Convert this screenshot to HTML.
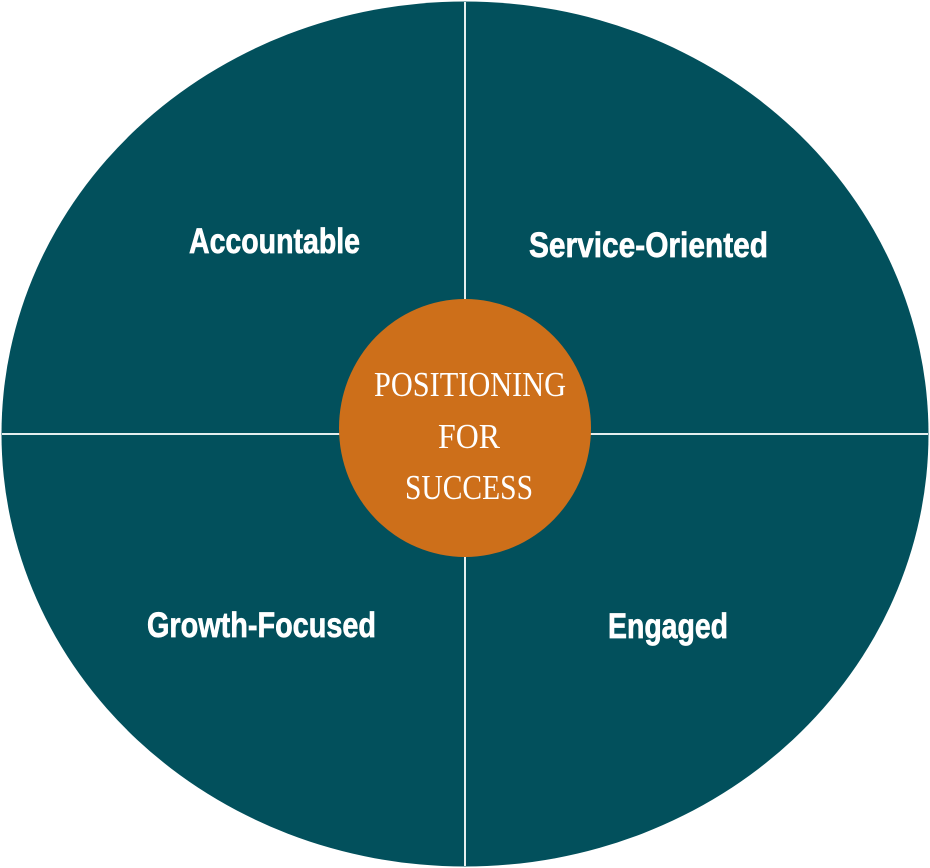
<!DOCTYPE html>
<html><head><meta charset="utf-8"><style>
html,body{margin:0;padding:0;background:#fff;width:930px;height:868px;overflow:hidden}
svg{display:block}
.l{font-family:"Liberation Sans",sans-serif;font-weight:bold;font-size:35px;fill:#fff;stroke:#fff;stroke-width:.7px}
.c{font-family:"Liberation Serif",serif;font-size:35px;fill:#fff}
</style></head><body>
<svg width="930" height="868" viewBox="0 0 930 868" xmlns="http://www.w3.org/2000/svg">
<ellipse cx="465" cy="434" rx="463.5" ry="432.5" fill="#02505c"/>
<rect x="464" y="2" width="2" height="864" fill="#e4eeee"/>
<rect x="2" y="433" width="926" height="2" fill="#e4eeee"/>
<ellipse cx="465" cy="428" rx="126" ry="129" fill="#cd6f1a"/>
<text class="l" x="189" y="253" textLength="171" lengthAdjust="spacingAndGlyphs">Accountable</text>
<text class="l" x="529" y="257" textLength="239" lengthAdjust="spacingAndGlyphs">Service-Oriented</text>
<text class="l" x="147" y="637" textLength="229" lengthAdjust="spacingAndGlyphs">Growth-Focused</text>
<text class="l" x="608" y="638" textLength="120" lengthAdjust="spacingAndGlyphs">Engaged</text>
<text class="c" x="374" y="396" textLength="192" lengthAdjust="spacingAndGlyphs">POSITIONING</text>
<text class="c" x="438" y="448" textLength="62" lengthAdjust="spacingAndGlyphs">FOR</text>
<text class="c" x="405" y="499" textLength="128" lengthAdjust="spacingAndGlyphs">SUCCESS</text>
</svg>
</body></html>
